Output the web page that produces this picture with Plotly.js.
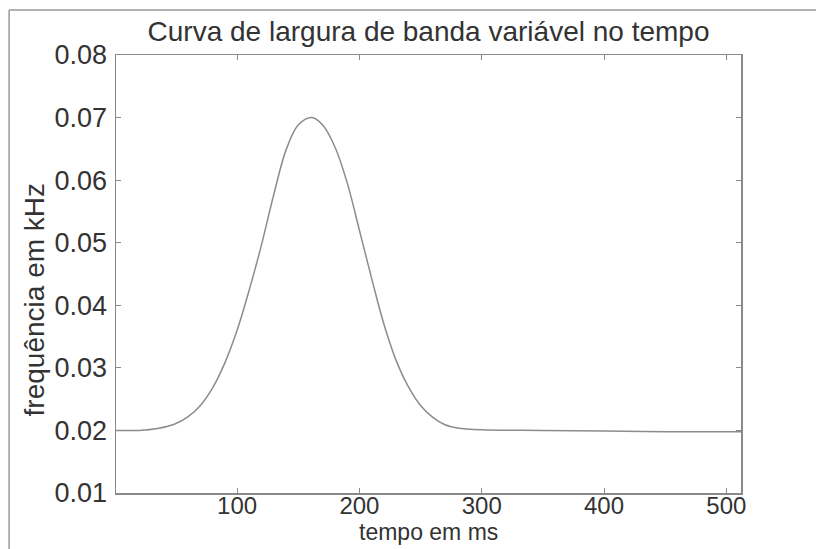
<!DOCTYPE html>
<html>
<head>
<meta charset="utf-8">
<script src="https://cdn.plot.ly/plotly-3.0.1.min.js"></script>
<style>html,body{margin:0;padding:0;background:#fff;}#chart{width:816px;height:549px;}</style>
</head>
<body>
<div id="chart"></div>
<script>
// Time (ms) and bandwidth frequency (kHz)
const tempo = [1, 20, 35, 50, 60, 70, 80, 90, 100, 110, 120, 130, 140, 150, 161, 170, 180, 190, 200, 210, 220, 230, 240, 250, 260, 270, 280, 300, 350, 400, 450, 512];
const frequencia = [0.0200, 0.0200, 0.0203, 0.0211, 0.0222, 0.0240, 0.0268, 0.0308, 0.0360, 0.0425, 0.0497, 0.0577, 0.0648, 0.0688, 0.0700, 0.0688, 0.0653, 0.0596, 0.0520, 0.0443, 0.0370, 0.0312, 0.0270, 0.0240, 0.0221, 0.0209, 0.0204, 0.0201, 0.0200, 0.0199, 0.0198, 0.0198];
const xTicks = [100, 200, 300, 400, 500];
const yTicks = [0.01, 0.02, 0.03, 0.04, 0.05, 0.06, 0.07, 0.08];

const font = {family: 'Liberation Sans, Arial, sans-serif', color: '#333'};
const axisCommon = {
  showline: true, linecolor: '#8a8a8a', linewidth: 1.5, mirror: 'ticks',
  ticks: 'inside', ticklen: 5, tickcolor: '#8a8a8a', tickwidth: 1,
  showgrid: false, zeroline: false,
  tickfont: Object.assign({size: 27}, font)
};
const layout = {
  width: 816, height: 549,
  margin: {l: 116, r: 75, t: 55, b: 56},
  paper_bgcolor: '#fff', plot_bgcolor: '#fff',
  showlegend: false,
  title: {text: 'Curva de largura de banda variável no tempo', x: 0.5, xref: 'paper', xanchor: 'center',
    y: 1 - 31 / 549, yref: 'container', yanchor: 'middle', font: Object.assign({size: 28}, font)},
  xaxis: Object.assign({}, axisCommon, {range: [1, 512], tickvals: xTicks, ticktext: xTicks.map(String),
    ticklabelstandoff: -9, tickfont: Object.assign({size: 24}, font)}),
  yaxis: Object.assign({}, axisCommon, {range: [0.01, 0.08], tickvals: yTicks, ticktext: yTicks.map(v => v.toFixed(2)), ticklabelstandoff: 2}),
  annotations: [
    {text: 'tempo em ms', xref: 'paper', yref: 'paper', x: 0.5, y: -54 / 438, xanchor: 'center', yanchor: 'bottom', showarrow: false, font: Object.assign({size: 23}, font)},
    {text: 'frequência em kHz', xref: 'paper', yref: 'paper', x: -0.131, y: 0.44, xanchor: 'center', yanchor: 'middle', textangle: -90, showarrow: false, font: Object.assign({size: 28}, font)}
  ],
  shapes: [
    {type: 'line', xref: 'paper', yref: 'paper', x0: -0.171, x1: -0.171, y0: -0.2, y1: 1.103, line: {color: '#999', width: 1.5}, layer: 'below'},
    {type: 'line', xref: 'paper', yref: 'paper', x0: -0.171, x1: 1.2, y0: 1.103, y1: 1.103, line: {color: '#999', width: 1.5}, layer: 'below'}
  ]
};
const data = [{
  x: tempo, y: frequencia, type: 'scatter', mode: 'lines',
  line: {color: '#8c8c8c', width: 1.5, shape: 'spline', smoothing: 1},
  hoverinfo: 'x+y'
}];
Plotly.newPlot('chart', data, layout, {staticPlot: true, displayModeBar: false});
</script>
</body>
</html>
